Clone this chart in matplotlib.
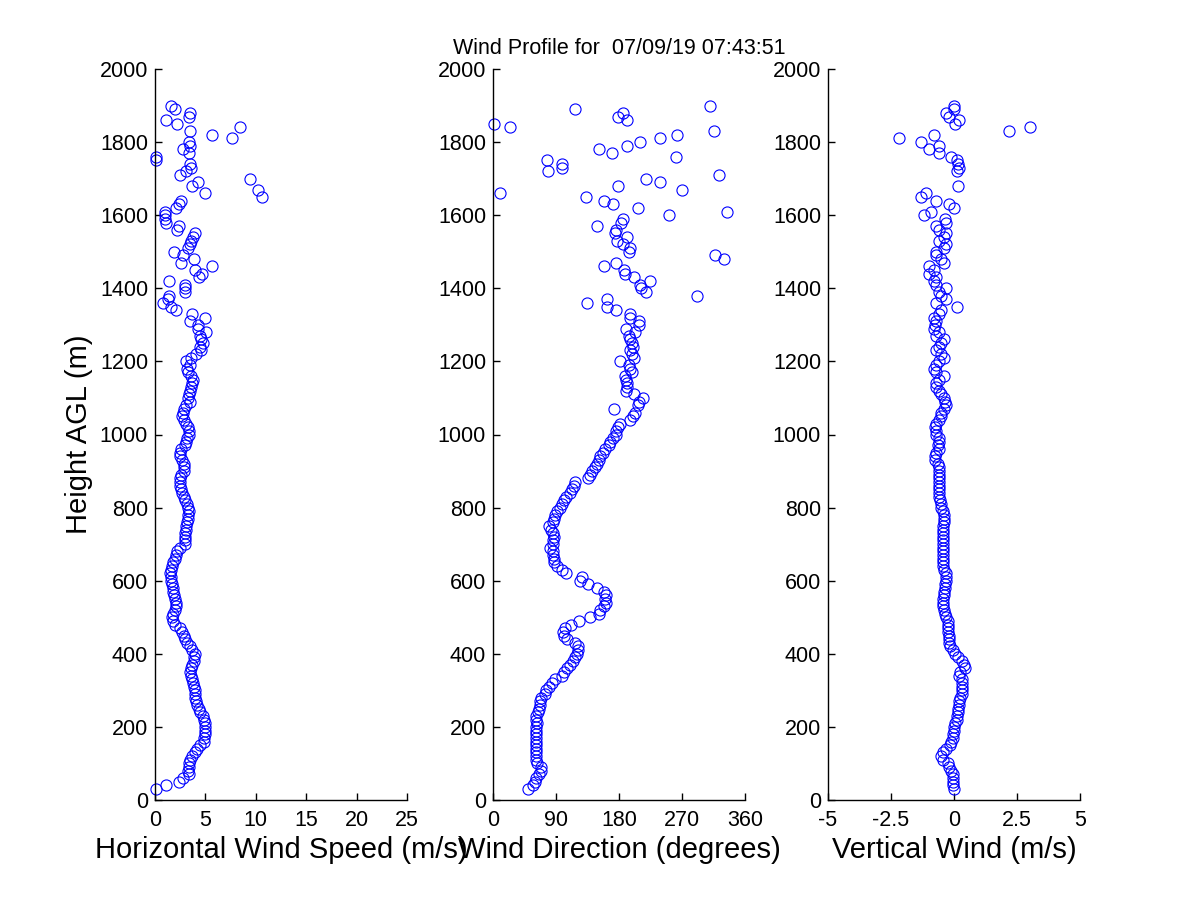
import numpy as np
import matplotlib
matplotlib.use("Agg")
import matplotlib.pyplot as plt

plt.rcParams['font.family'] = ['Liberation Sans', 'DejaVu Sans']
plt.rcParams['axes.unicode_minus'] = False

# range gates (m AGL), top to bottom
heights = [
    1900, 1890, 1880, 1870, 1860, 1850, 1840, 1830, 1820, 1810,
    1800, 1790, 1780, 1770, 1760, 1750, 1740, 1730, 1720, 1710,
    1700, 1690, 1680, 1670, 1660, 1650, 1640, 1630, 1620, 1610,
    1600, 1590, 1580, 1570, 1560, 1550, 1540, 1530, 1520, 1510,
    1500, 1490, 1480, 1470, 1460, 1450, 1440, 1430, 1420, 1410,
    1400, 1390, 1380, 1370, 1360, 1350, 1340, 1330, 1320, 1310,
    1300, 1290, 1280, 1270, 1260, 1250, 1240, 1230, 1220, 1210,
    1200, 1190, 1180, 1170, 1160, 1150, 1140, 1130, 1120, 1110,
    1100, 1090, 1080, 1070, 1060, 1050, 1040, 1030, 1020, 1010,
    1000, 990, 980, 970, 960, 950, 940, 930, 920, 910,
    900, 890, 880, 870, 860, 850, 840, 830, 820, 810,
    800, 790, 780, 770, 760, 750, 740, 730, 720, 710,
    700, 690, 680, 670, 660, 650, 640, 630, 620, 610,
    600, 590, 580, 570, 560, 550, 540, 530, 520, 510,
    500, 490, 480, 470, 460, 450, 440, 430, 420, 410,
    400, 390, 380, 370, 360, 350, 340, 330, 320, 310,
    300, 290, 280, 270, 260, 250, 240, 230, 220, 210,
    200, 190, 180, 170, 160, 150, 140, 130, 120, 110,
    100, 90, 80, 70, 60, 50, 40, 30,
]

# horizontal wind speed (m/s)
speed = [
    1.6, 2.0, 3.5, 3.4, 1.1, 2.2, 8.4, 3.5, 5.7, 7.6,
    3.4, 3.5, 2.8, 3.4, 0.1, 0.1, 3.5, 3.6, 3.1, 2.5,
    9.4, 4.3, 3.7, 10.2, 5.0, 10.6, 2.6, 2.4, 2.1, 1.0,
    1.0, 1.0, 1.1, 2.4, 2.2, 4.0, 3.8, 3.6, 3.5, 3.3,
    1.9, 2.8, 3.9, 2.6, 5.7, 4.0, 4.7, 4.4, 1.4, 3.0,
    3.0, 3.0, 1.4, 1.3, 0.8, 1.6, 2.1, 3.7, 5.0, 3.5,
    4.3, 4.3, 5.1, 4.5, 4.6, 4.8, 4.5, 4.6, 4.1, 3.6,
    3.1, 3.5, 3.2, 3.3, 3.6, 3.8, 3.7, 3.6, 3.5, 3.4,
    3.3, 3.5, 3.1, 2.9, 2.8, 2.7, 2.9, 3.1, 3.3, 3.4,
    3.4, 3.2, 3.1, 3.0, 2.6, 2.5, 2.5, 2.7, 2.9, 2.9,
    2.9, 2.6, 2.5, 2.5, 2.5, 2.6, 2.7, 2.9, 3.0, 3.2,
    3.3, 3.4, 3.3, 3.3, 3.2, 3.1, 3.1, 3.0, 3.0, 3.0,
    3.0, 2.5, 2.2, 2.1, 2.0, 1.8, 1.7, 1.6, 1.5, 1.6,
    1.6, 1.7, 1.8, 1.8, 1.9, 2.0, 2.1, 2.1, 2.0, 1.8,
    1.7, 1.8, 2.0, 2.5, 2.7, 2.9, 3.0, 3.2, 3.5, 3.7,
    4.0, 3.9, 3.9, 3.7, 3.6, 3.5, 3.6, 3.7, 3.8, 3.9,
    4.0, 4.0, 4.0, 4.1, 4.2, 4.4, 4.5, 4.8, 4.9, 5.0,
    5.0, 5.0, 5.0, 4.9, 4.9, 4.5, 4.2, 4.0, 3.7, 3.5,
    3.4, 3.4, 3.3, 3.4, 2.8, 2.4, 1.1, 0.1,
]

# wind direction (degrees)
direction = [
    310, 117, 185, 179, 192, 1, 24, 316, 263, 238,
    210, 192, 152, 170, 261, 77, 98, 98, 78, 323,
    218, 239, 178, 270, 10, 133, 159, 172, 207, 334,
    252, 185, 183, 149, 175, 174, 191, 177, 186, 195,
    194, 317, 330, 175, 159, 187, 188, 201, 224, 210,
    212, 219, 292, 163, 134, 163, 176, 196, 196, 209,
    208, 190, 203, 194, 196, 198, 200, 195, 198, 201,
    181, 194, 196, 198, 189, 190, 191, 191, 190, 201,
    214, 209, 207, 173, 203, 200, 196, 182, 179, 176,
    176, 172, 167, 165, 160, 157, 153, 151, 149, 146,
    142, 139, 135, 117, 116, 113, 110, 104, 101, 98,
    96, 92, 89, 87, 85, 80, 83, 86, 87, 86,
    85, 82, 85, 86, 87, 87, 92, 98, 104, 127,
    124, 135, 148, 158, 162, 160, 162, 158, 153, 151,
    139, 123, 111, 103, 100, 101, 106, 117, 121, 122,
    120, 117, 114, 110, 106, 101, 98, 88, 84, 80,
    76, 74, 69, 67, 67, 66, 64, 62, 62, 63,
    62, 61, 62, 62, 61, 61, 62, 61, 61, 62,
    63, 69, 68, 66, 62, 60, 57, 50,
]

nan = np.nan
# vertical wind (m/s), nan = no value at that gate
vertical = [
    0.0, 0.0, -0.3, -0.2, 0.2, 0.05, 3.0, 2.2, -0.8, -2.2,
    -1.3, -0.6, -1.0, -0.6, -0.1, 0.1, 0.15, 0.2, 0.1, nan,
    nan, nan, 0.15, nan, -1.1, -1.3, -0.7, -0.2, 0.0, -0.9,
    -1.2, -0.35, -0.3, -0.7, -0.6, -0.3, -0.4, -0.6, -0.3, -0.4,
    -0.7, -0.7, -0.5, -0.4, -1.0, -0.8, -1.0, -0.7, -0.8, -0.7,
    -0.3, -0.6, -0.5, -0.3, -0.7, 0.1, -0.5, -0.6, -0.8, -0.7,
    -0.75, -0.8, -0.6, -0.7, -0.4, -0.5, -0.6, -0.7, -0.5, -0.4,
    -0.6, -0.7, -0.8, -0.7, -0.4, -0.6, -0.7, -0.7, -0.6, -0.5,
    -0.4, -0.35, -0.3, -0.4, -0.5, -0.5, -0.6, -0.7, -0.75, -0.7,
    -0.7, -0.6, -0.6, -0.65, -0.6, -0.7, -0.75, -0.75, -0.65, -0.6,
    -0.6, -0.6, -0.6, -0.6, -0.6, -0.6, -0.6, -0.6, -0.55, -0.5,
    -0.5, -0.45, -0.4, -0.4, -0.4, -0.45, -0.45, -0.45, -0.45, -0.45,
    -0.45, -0.45, -0.45, -0.45, -0.45, -0.45, -0.45, -0.4, -0.3, -0.3,
    -0.3, -0.35, -0.35, -0.4, -0.4, -0.45, -0.45, -0.45, -0.4, -0.35,
    -0.3, -0.25, -0.25, -0.25, -0.25, -0.2, -0.2, -0.2, -0.15, -0.05,
    0.05, 0.15, 0.3, 0.4, 0.45, 0.25, 0.2, 0.3, 0.3, 0.3,
    0.3, 0.3, 0.25, 0.2, 0.2, 0.15, 0.15, 0.1, 0.1, 0.05,
    0.0, 0.0, -0.05, -0.05, -0.1, -0.15, -0.3, -0.45, -0.5, -0.45,
    -0.25, -0.2, -0.1, -0.05, -0.05, -0.05, -0.02, 0.0,
]

height_ticks = [0, 200, 400, 600, 800, 1000, 1200, 1400, 1600, 1800, 2000]
speed_ticks = [0, 5, 10, 15, 20, 25]
dir_ticks = [0, 90, 180, 270, 360]
vert_ticks = [-5, -2.5, 0, 2.5, 5]
vert_tick_labels = ['-5', '-2.5', '0', '2.5', '5']

title_text = 'Wind Profile for  07/09/19 07:43:51'

fig = plt.figure(figsize=(12, 9), dpi=100)

lefts = [155 / 1200, 493 / 1200, 828 / 1200]
width = 252 / 1200
bottom = 1 - 800 / 900
height = 731 / 900

panels = [
    (speed, (0, 25), speed_ticks, None, 'Horizontal Wind Speed (m/s)'),
    (direction, (0, 360), dir_ticks, None, 'Wind Direction (degrees)'),
    (vertical, (-5, 5), vert_ticks, vert_tick_labels, 'Vertical Wind (m/s)'),
]

axes = []
for left, (vals, xlim, xt, xtl, xlab) in zip(lefts, panels):
    ax = fig.add_axes([left, bottom, width, height])
    ax.plot(vals, heights, 'o', mfc='none', mec=(0, 0, 1), ms=8, mew=0.8,
            clip_on=False)
    ax.set_xlim(*xlim)
    ax.set_ylim(0, 2000)
    ax.set_xticks(xt)
    if xtl is not None:
        ax.set_xticklabels(xtl)
    ax.set_yticks(height_ticks)
    ax.spines['top'].set_visible(False)
    ax.spines['right'].set_visible(False)
    ax.spines['left'].set_linewidth(1.0)
    ax.spines['bottom'].set_linewidth(1.0)
    ax.tick_params(direction='in', length=5, width=1.0, labelsize=15.5)
    ax.tick_params(axis='x', pad=7)
    ax.tick_params(axis='y', pad=5)
    ax.set_xlabel(xlab, fontsize=21, labelpad=4)
    axes.append(ax)

axes[0].set_ylabel('Height AGL (m)', fontsize=21, labelpad=5)
axes[1].set_title(title_text, fontsize=15.5, pad=11)

fig.savefig('out.png', dpi=100, facecolor='white')
plt.close(fig)
